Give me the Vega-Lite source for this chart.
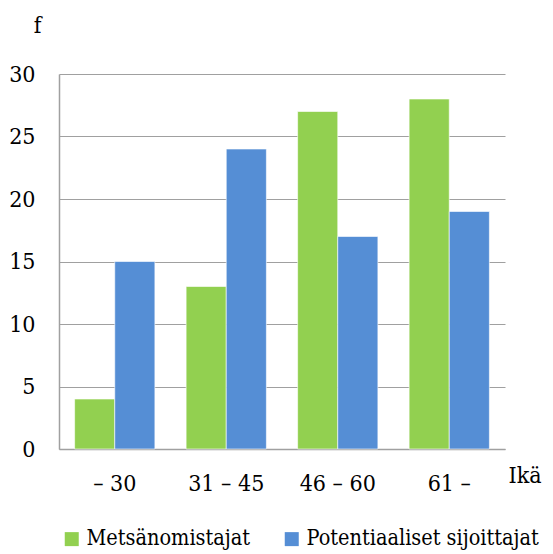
{
  "$schema": "https://vega.github.io/schema/vega-lite/v6.json",
  "width": 446,
  "height": 375,
  "autosize": {"type": "none"},
  "padding": {"left": 59, "top": 74, "right": 48, "bottom": 105},
  "background": "white",
  "config": {
    "font": "DejaVu Serif Condensed",
    "view": {"stroke": null}
  },
  "data": {
    "values": [
      {"ika": "– 30", "ryhma": "Metsänomistajat", "f": 4},
      {"ika": "– 30", "ryhma": "Potentiaaliset sijoittajat", "f": 15},
      {"ika": "31 – 45", "ryhma": "Metsänomistajat", "f": 13},
      {"ika": "31 – 45", "ryhma": "Potentiaaliset sijoittajat", "f": 24},
      {"ika": "46 – 60", "ryhma": "Metsänomistajat", "f": 27},
      {"ika": "46 – 60", "ryhma": "Potentiaaliset sijoittajat", "f": 17},
      {"ika": "61 –", "ryhma": "Metsänomistajat", "f": 28},
      {"ika": "61 –", "ryhma": "Potentiaaliset sijoittajat", "f": 19}
    ]
  },
  "mark": {"type": "bar", "stroke": "#ffffff", "strokeOpacity": 0.6, "strokeWidth": 1},
  "encoding": {
    "x": {
      "field": "ika",
      "type": "nominal",
      "sort": null,
      "scale": {"paddingInner": 0.28, "paddingOuter": 0.14},
      "axis": {
        "title": "Ikä",
        "titleFont": "DejaVu Serif Condensed",
        "titleFontSize": 23,
        "titleFontWeight": "normal",
        "titleColor": "#000000",
        "titleAlign": "left",
        "titleBaseline": "alphabetic",
        "titleAnchor": "start",
        "titleX": 449,
        "titleY": 33,
        "labelAngle": 0,
        "labelFont": "DejaVu Serif Condensed",
        "labelFontSize": 23,
        "labelColor": "#000000",
        "labelBaseline": "alphabetic",
        "labelPadding": 41,
        "ticks": false,
        "tickSize": 0,
        "domainColor": "#a0a0a0",
        "domainWidth": 1.5,
        "grid": false
      }
    },
    "xOffset": {"field": "ryhma", "type": "nominal", "sort": null},
    "y": {
      "field": "f",
      "type": "quantitative",
      "scale": {"domain": [0, 30]},
      "axis": {
        "title": "f",
        "titleFont": "DejaVu Serif Condensed",
        "titleFontSize": 23,
        "titleFontWeight": "normal",
        "titleColor": "#000000",
        "titleAngle": 0,
        "titleAlign": "center",
        "titleBaseline": "alphabetic",
        "titleX": -22,
        "titleY": -42,
        "values": [0, 5, 10, 15, 20, 25, 30],
        "labelFont": "DejaVu Serif Condensed",
        "labelFontSize": 23,
        "labelColor": "#000000",
        "labelPadding": 24,
        "ticks": false,
        "tickSize": 0,
        "domainColor": "#a0a0a0",
        "domainWidth": 1.5,
        "grid": true,
        "gridColor": "#a0a0a0",
        "gridWidth": 1.2
      }
    },
    "color": {
      "field": "ryhma",
      "type": "nominal",
      "sort": null,
      "scale": {"range": ["#92d050", "#558ed5"]},
      "legend": {
        "title": null,
        "orient": "none",
        "direction": "horizontal",
        "legendX": 2,
        "legendY": 454,
        "padding": 0,
        "symbolType": "square",
        "symbolSize": 196,
        "symbolStrokeWidth": 0,
        "symbolOpacity": 1,
        "labelFont": "DejaVu Serif Condensed",
        "labelFontSize": 21.5,
        "labelColor": "#000000",
        "labelOffset": 4,
        "labelLimit": 400,
        "columnPadding": 30
      }
    }
  }
}
